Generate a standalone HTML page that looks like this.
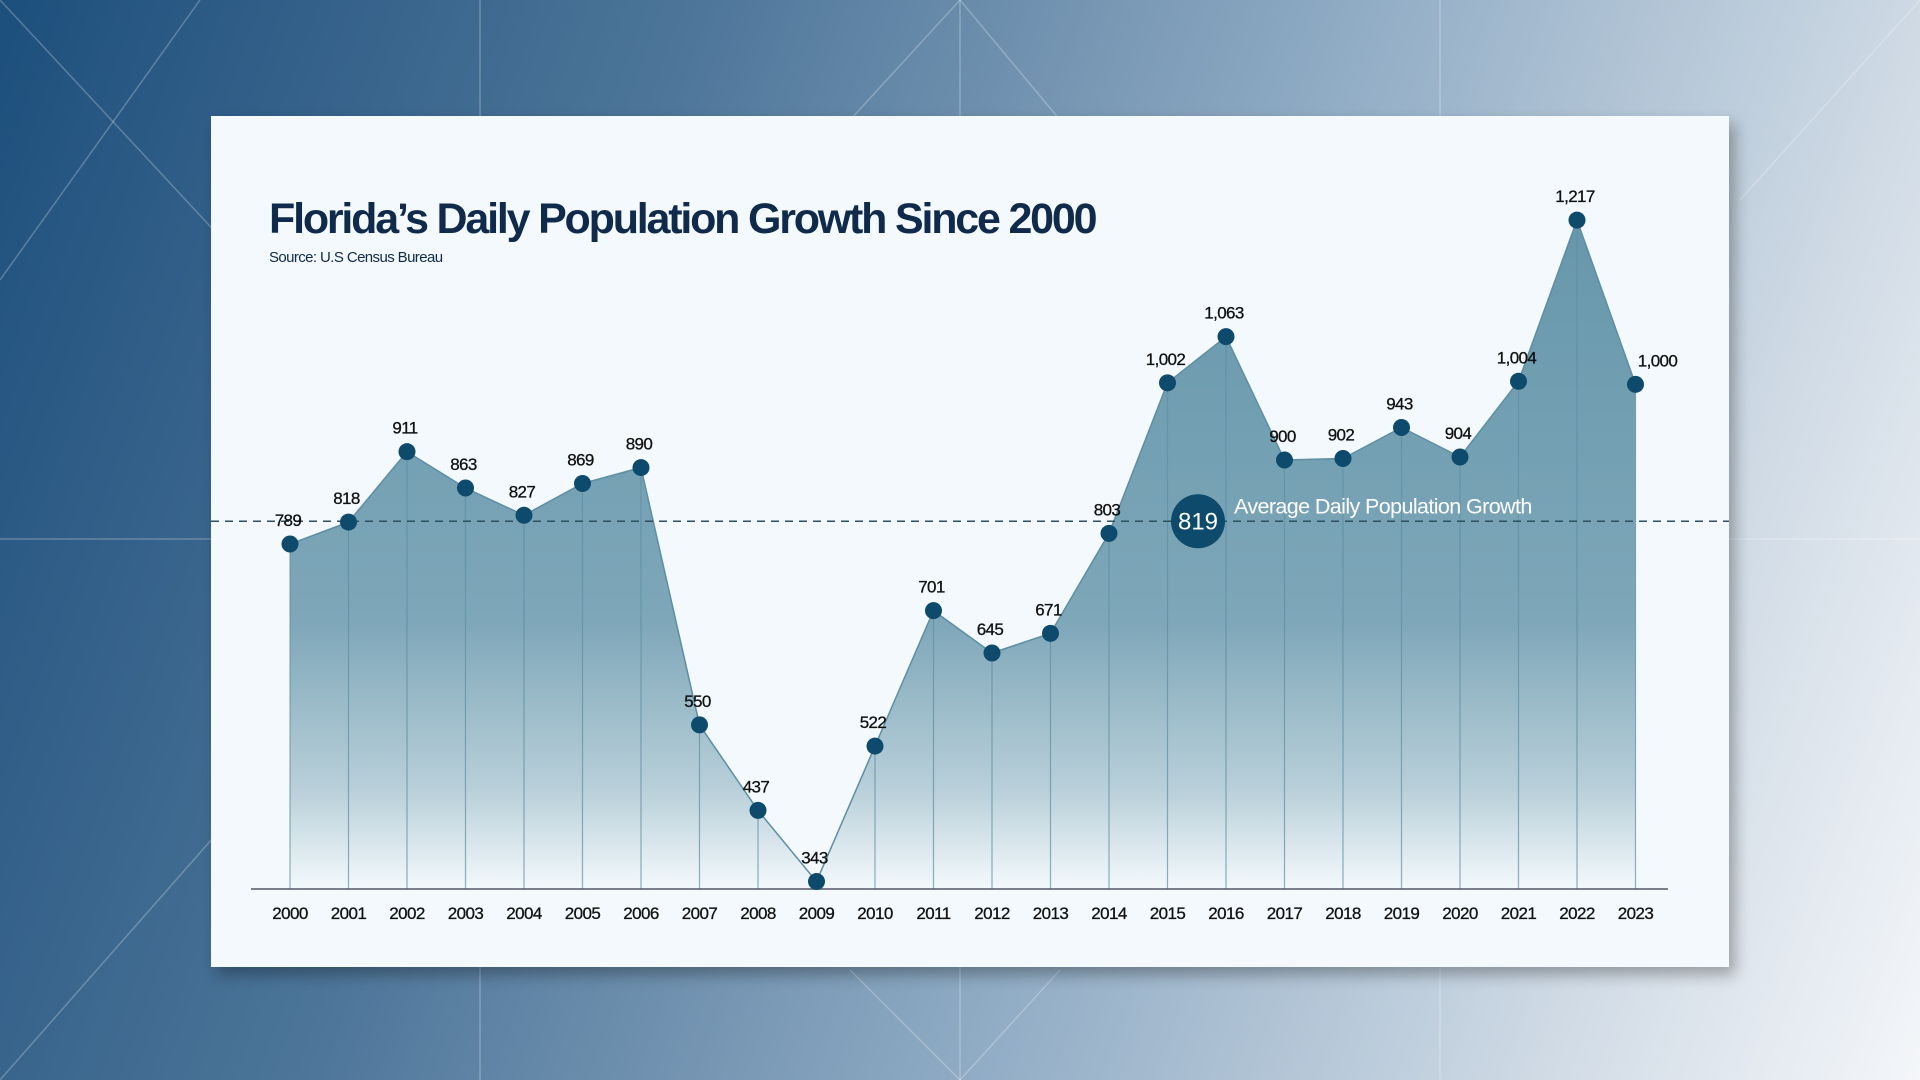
<!DOCTYPE html>
<html><head><meta charset="utf-8"><style>
html,body{margin:0;padding:0;width:1920px;height:1080px;overflow:hidden;font-family:"Liberation Sans",sans-serif}
#bg{position:absolute;left:0;top:0;width:1920px;height:1080px;background:linear-gradient(110deg,#1d4f7c 0%,#4d7599 30%,#93aec6 60%,#d3dde7 85%,#f4f6f9 100%)}
#card{position:absolute;left:211px;top:116px;width:1518px;height:851px;background:#f3f9fc;box-shadow:6px 8px 14px rgba(0,0,0,0.3)}
</style></head><body>
<div id="bg">
<svg width="1920" height="1080" style="position:absolute;left:0;top:0">
<g stroke="rgba(255,255,255,0.25)" stroke-width="1.5" fill="none">
<line x1="480" y1="0" x2="480" y2="1080"/><line x1="960" y1="0" x2="960" y2="1080"/><line x1="1440" y1="0" x2="1440" y2="1080"/>
<line x1="0" y1="539" x2="1920" y2="539"/>
<line x1="0" y1="0" x2="260" y2="280"/><line x1="0" y1="280" x2="200" y2="0"/>
<line x1="850" y1="120" x2="960" y2="0"/><line x1="960" y1="0" x2="1060" y2="120"/>
<line x1="1740" y1="200" x2="1920" y2="0"/><line x1="0" y1="1080" x2="220" y2="830"/>
<line x1="850" y1="970" x2="960" y2="1080"/><line x1="1060" y1="970" x2="960" y2="1080"/>
</g></svg>
</div>
<div id="card"></div>
<svg id="chart" width="1920" height="1080" style="position:absolute;left:0;top:0">
<defs>
<linearGradient id="ag" gradientUnits="userSpaceOnUse" x1="0" y1="220" x2="0" y2="889">
<stop offset="0" stop-color="#6797ab"/><stop offset="0.6" stop-color="#7ea7b9"/><stop offset="0.85" stop-color="#b8cfd9"/><stop offset="1" stop-color="#f3f9fc"/></linearGradient></defs>
<text x="269" y="233" font-size="43" font-weight="bold" fill="#0f2a4a" letter-spacing="-2.2">Florida’s Daily Population Growth Since 2000</text>
<text x="269" y="262" font-size="15" fill="#0f2a4a" letter-spacing="-0.6">Source: U.S Census Bureau</text>
<g id="marks"></g>
</svg>
<script>
const years=["2000","2001","2002","2003","2004","2005","2006","2007","2008","2009","2010","2011","2012","2013","2014","2015","2016","2017","2018","2019","2020","2021","2022","2023"];
const values=[789,818,911,863,827,869,890,550,437,343,522,701,645,671,803,1002,1063,900,902,943,904,1004,1217,1000];
const labels=["789","818","911","863","827","869","890","550","437","343","522","701","645","671","803","1,002","1,063","900","902","943","904","1,004","1,217","1,000"];
const average=[819];
const NS="http://www.w3.org/2000/svg";
const g=document.getElementById('marks');
const xS=i=>290+i*58.5;
const yS=v=>547.8-0.7568*(v-784);
const base=889;
function mk(t,a){const e=document.createElementNS(NS,t);for(const k in a)e.setAttribute(k,a[k]);g.appendChild(e);return e;}
let d="M"+xS(0)+","+base;
values.forEach((v,i)=>d+=" L"+xS(i)+","+yS(v));
d+=" L"+xS(values.length-1)+","+base+" Z";
const area=mk('path',{d:d,fill:"url(#ag)"});


let ld="";values.forEach((v,i)=>ld+=(i?" L":"M")+xS(i)+","+yS(v));
const line=mk('path',{d:ld,fill:"none",stroke:"#5d8ea4","stroke-width":1.5});


values.forEach((v,i)=>{
 const vl=mk('line',{x1:xS(i),x2:xS(i),y1:yS(v),y2:base,stroke:"#5d8ea4","stroke-width":1.2,"stroke-opacity":0.7});
 
 
});
const ax=mk('line',{x1:251,x2:1668,y1:base,y2:base,stroke:"#556","stroke-width":1.5});


const ay=yS(average[0]);
const al=mk('line',{x1:211,x2:1729,y1:ay,y2:ay,stroke:"#2f4f60","stroke-width":1.5,"stroke-dasharray":"8 6"});


values.forEach((v,i)=>{
 const c=mk('circle',{cx:xS(i),cy:yS(v),r:8.5,fill:"#0d4a6b"});
 
 
 const t=mk('text',{x:xS(i)+(i==values.length-1?22:-2),y:yS(v)-18,"font-size":17,fill:"#111","text-anchor":"middle","letter-spacing":"-0.6","stroke":"#111","stroke-width":0.3});
 t.textContent=labels[i];
 
 
 const xt=mk('text',{x:xS(i),y:919,"font-size":17,fill:"#111","text-anchor":"middle","letter-spacing":"-0.6","stroke":"#111","stroke-width":0.3});
 xt.textContent=years[i];
 
 
});
const ac=mk('circle',{cx:1198,cy:ay,r:27,fill:"#0d4a6b"});


const at=mk('text',{x:1198,y:ay+8,"font-size":24,fill:"#fff","text-anchor":"middle"});
at.textContent=String(average[0]);


const an=mk('text',{x:1234,y:ay-8,"font-size":21.5,fill:"#fff","letter-spacing":"-0.6"});
an.textContent="Average Daily Population Growth";


</script>
</body></html>
